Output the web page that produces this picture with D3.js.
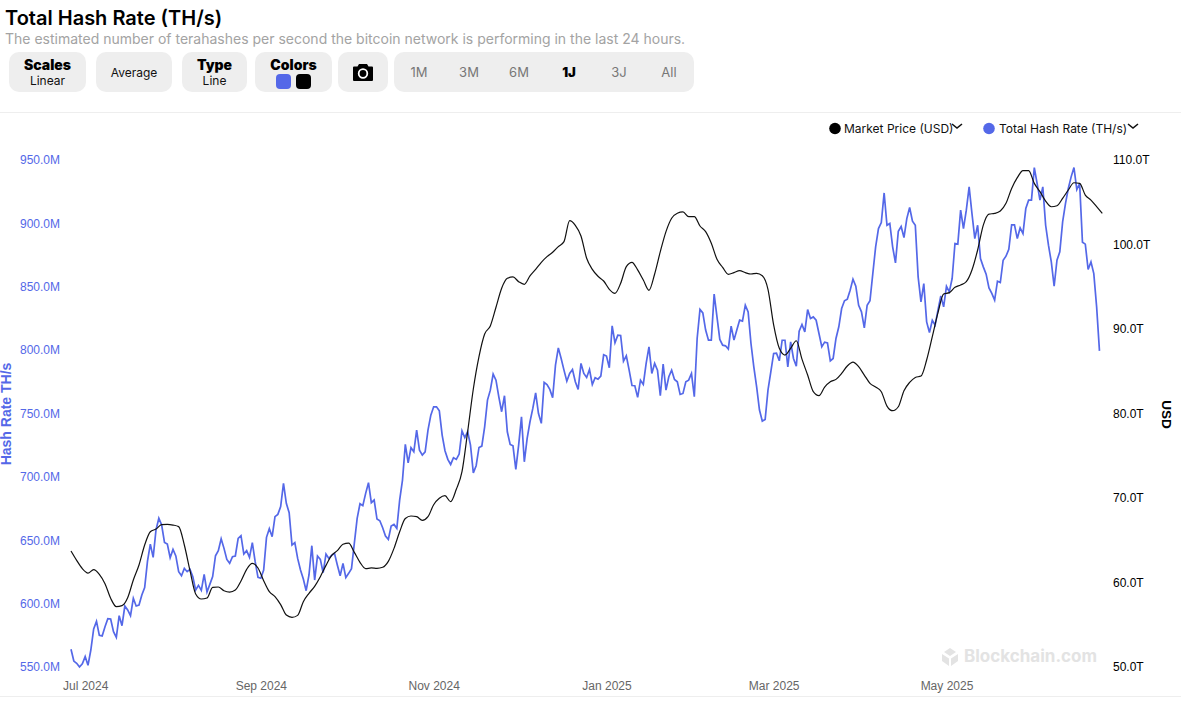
<!DOCTYPE html>
<html lang="en">

<head>
    <meta charset="UTF-8">
    <title>Total Hash Rate (TH/s)</title>
    <script src="https://d3js.org/d3.v7.min.js"></script>
    <style>
        html, body {
            margin: 0;
            padding: 0;
            background: #fff;
            font-family: Inter, sans-serif;
            overflow: hidden;
        }

        h1 {
            position: absolute;
            left: 5px;
            top: 6px;
            margin: 0;
            font-size: 20px;
            line-height: 24px;
            font-weight: 600;
            color: #000;
        }

        .sub {
            position: absolute;
            left: 5px;
            top: 30px;
            font-size: 14px;
            line-height: 18px;
            color: #a3a3a3;
        }

        .btn {
            position: absolute;
            top: 52px;
            height: 40px;
            background: #eee;
            border-radius: 10px;
            display: flex;
            flex-direction: column;
            align-items: center;
            justify-content: center;
            font-size: 12px;
            line-height: 15px;
            color: #111;
        }

        .btn b {
            font-size: 14px;
            line-height: 16px;
            font-weight: 900;
            color: #000;
            padding-top: 1px;
        }

        .swatches {
            display: flex;
            gap: 5px;
            margin-top: 1px;
        }

        .swatches i {
            width: 15px;
            height: 15px;
            border-radius: 4px;
            display: block;
        }

        .range {
            position: absolute;
            top: 13px;
            font-size: 13px;
            color: #777;
            transform: translateX(-50%);
        }

        .range.on {
            color: #000;
            font-weight: 900;
        }

        svg {
            position: absolute;
            left: 0;
            top: 0;
        }

        .tick text {
            font-family: "Liberation Sans", Arial, sans-serif;
            font-size: 12px;
        }
    </style>
</head>

<body>
    <h1>Total Hash Rate (TH/s)</h1>
    <div class="sub">The estimated number of terahashes per second the bitcoin network is performing in the last 24 hours.</div>
    <div id="toolbar"></div>
    <svg id="chart" width="1184" height="707"></svg>
    <script>
        const blue = "#5468e8";

        const leftTicks = [550, 600, 650, 700, 750, 800, 850, 900, 950];
        const rightTicks = [50, 60, 70, 80, 90, 100, 110];
        const monthTicks = ["2024-07-01", "2024-09-01", "2024-11-01", "2025-01-01", "2025-03-01", "2025-05-01"];
        const rangeLabels = ["1M", "3M", "6M", "1J", "3J", "All"];

        const firstDay = "2024-06-26";

        // hash rate in millions, one value a day
        const hashValues = [
            564.0, 554.7, 552.9, 550.0, 552.6, 558.2, 551.3, 563.4, 580.0, 586.0, 575.0, 574.5, 581.8, 588.1, 587.9, 577.9,
            573.4, 590.5, 582.6, 598.1, 595.0, 590.5, 604.2, 598.1, 598.9, 606.8, 612.6, 633.6, 647.0, 636.5, 658.1, 667.3,
            662.0, 648.3, 647.0, 636.2, 642.8, 637.6, 625.2, 622.0, 627.8, 625.2, 627.0, 621.3, 610.7, 614.4, 610.5, 623.1,
            609.2, 615.2, 621.3, 637.8, 641.8, 651.2, 643.6, 634.9, 631.8, 637.0, 637.6, 651.5, 653.6, 639.1, 641.8, 636.5,
            648.1, 633.1, 620.7, 620.0, 626.5, 652.3, 659.1, 652.8, 668.6, 670.4, 676.5, 694.9, 679.1, 671.7, 646.2, 648.1,
            635.7, 626.5, 619.4, 610.2, 622.6, 645.7, 618.6, 637.6, 634.9, 624.4, 639.1, 635.7, 638.1, 639.7, 630.5, 622.0,
            631.8, 620.5, 623.9, 627.6, 647.5, 667.3, 678.8, 677.3, 687.0, 695.4, 679.6, 681.7, 666.7, 665.4, 659.9, 653.3,
            650.7, 661.2, 662.5, 659.4, 681.7, 697.5, 725.6, 711.1, 723.0, 719.8, 736.9, 721.1, 717.2, 719.8, 736.9, 748.7,
            755.3, 755.3, 752.1, 733.0, 720.6, 713.8, 709.8, 715.1, 713.8, 718.0, 736.4, 730.9, 735.6, 725.1, 703.2, 708.8,
            723.2, 724.3, 739.5, 760.6, 768.4, 781.1, 776.3, 763.2, 751.4, 764.0, 735.6, 725.6, 724.5, 705.9, 725.1, 747.4,
            711.9, 730.3, 743.5, 754.0, 766.3, 750.0, 742.2, 774.5, 772.9, 769.0, 762.4, 788.2, 801.8, 793.4, 784.2, 775.5,
            781.6, 784.7, 775.0, 769.0, 789.5, 781.6, 778.4, 784.7, 772.9, 778.2, 777.1, 779.5, 796.3, 795.3, 786.1, 819.2,
            805.8, 811.8, 811.6, 791.3, 795.5, 784.2, 772.1, 771.9, 762.7, 776.3, 772.9, 789.5, 802.6, 781.6, 789.5, 784.2,
            764.0, 789.0, 768.4, 779.0, 784.2, 776.9, 775.0, 765.0, 765.8, 775.0, 776.3, 781.6, 763.2, 809.2, 832.1, 829.4,
            815.8, 807.9, 807.9, 844.2, 826.3, 808.4, 803.9, 803.4, 800.8, 818.9, 807.9, 815.8, 823.7, 822.9, 835.5, 830.2,
            805.2, 786.8, 771.1, 752.7, 744.0, 745.3, 768.4, 782.9, 797.4, 797.6, 791.6, 807.8, 807.8, 786.8, 806.5, 793.4,
            787.3, 814.9, 820.2, 814.4, 832.0, 824.9, 826.2, 823.6, 813.1, 802.6, 806.3, 805.7, 791.5, 793.4, 809.2, 818.4,
            832.8, 838.9, 840.2, 847.3, 856.0, 850.4, 835.4, 830.2, 817.6, 835.4, 838.9, 860.4, 881.5, 895.9, 900.6, 924.0,
            898.5, 899.9, 881.5, 868.8, 893.8, 897.5, 888.8, 903.8, 912.5, 901.7, 898.5, 857.8, 838.1, 852.5, 822.3, 813.9,
            823.6, 819.7, 831.5, 842.8, 834.1, 850.4, 846.0, 856.5, 884.1, 883.6, 910.4, 895.9, 910.4, 928.8, 907.7, 888.0,
            898.5, 872.3, 865.7, 859.9, 849.1, 844.7, 839.4, 854.4, 853.3, 870.9, 874.1, 879.6, 898.8, 898.8, 888.0, 896.4,
            892.0, 911.7, 918.3, 918.3, 944.0, 931.4, 918.3, 928.8, 898.5, 882.8, 869.6, 850.4, 870.9, 877.5, 901.2, 915.6,
            927.5, 936.7, 944.0, 926.7, 931.4, 885.1, 883.6, 863.6, 869.6, 860.4, 834.1, 799.4
        ];

        // market price, read every second day
        const priceValues = [
            63.73, 62.62, 61.64, 61.12, 61.52, 60.97, 59.86, 58.13, 57.14, 57.26, 58.2, 60.3, 62.07, 64.44, 66.0, 66.33,
            66.84, 66.88, 66.8, 66.61, 64.44, 61.4, 58.64, 58.05, 58.16, 59.43, 59.47, 59.03, 58.87, 59.11, 60.18, 61.56,
            62.27, 61.72, 60.22, 58.91, 58.32, 57.38, 56.15, 55.88, 56.11, 57.73, 58.72, 59.55, 60.69, 62.03, 63.21, 63.77,
            64.52, 64.67, 63.57, 62.39, 61.64, 61.72, 61.68, 61.8, 62.5, 64.04, 66.0, 67.57, 67.87, 67.79, 67.36, 67.79,
            69.2, 69.96, 70.27, 69.56, 71.03, 73.11, 77.85, 82.9, 86.73, 89.41, 90.36, 92.57, 94.82, 96.0, 96.16, 95.6,
            95.29, 96.28, 97.06, 97.89, 98.56, 99.08, 99.75, 100.34, 102.82, 102.27, 101.01, 98.37, 97.06, 96.24, 95.68, 94.7,
            94.22, 95.41, 97.38, 97.89, 96.99, 95.8, 94.58, 96.51, 99.16, 101.52, 103.1, 103.69, 103.85, 103.3, 103.3, 102.19,
            101.52, 100.14, 98.25, 97.3, 96.47, 96.67, 96.9, 96.67, 96.51, 96.59, 96.31, 94.7, 90.48, 87.71, 86.92, 87.71,
            88.61, 86.44, 84.55, 82.58, 82.11, 83.13, 83.76, 84.04, 84.75, 85.62, 86.09, 85.54, 84.55, 83.57, 83.13, 82.58,
            80.88, 80.33, 80.8, 82.7, 83.68, 84.27, 84.43, 86.33, 89.09, 91.93, 94.14, 94.3, 94.93, 95.2, 95.6, 96.98,
            99.35, 102.3, 103.6, 103.68, 103.96, 104.87, 106.64, 107.91, 108.75, 108.75, 107.23, 106.25, 105.14, 104.47, 104.59, 105.46,
            106.45, 107.31, 107.23, 105.85, 105.26, 104.47, 103.68
        ];

        const start = new Date(firstDay + "T00:00:00Z");
        const hashSeries = hashValues.map((v, i) => ({ date: d3.utcDay.offset(start, i), value: v }));
        const priceSeries = priceValues.map((v, i) => ({ date: d3.utcDay.offset(start, i * 2), value: v }));

        // toolbar
        const toolbar = d3.select("#toolbar");
        function addButton(left, width, title, sub) {
            const b = toolbar.append("div").attr("class", "btn")
                .style("left", left + "px").style("width", width + "px");
            if (title) b.append("b").text(title);
            if (sub) b.append("span").text(sub);
            return b;
        }
        addButton(9, 77, "Scales", "Linear");
        addButton(96, 76, null, "Average");
        addButton(182, 65, "Type", "Line");
        const colors = addButton(255, 77, "Colors", null);
        const swatches = colors.append("div").attr("class", "swatches");
        swatches.append("i").style("background", blue);
        swatches.append("i").style("background", "#000");

        const camera = addButton(338, 50, null, null);
        camera.append("svg").attr("width", 20).attr("height", 17).style("position", "static")
            .attr("viewBox", "0 0 20 17")
            .html('<path d="M6 0h8l1.5 2.5H19a1 1 0 0 1 1 1V16a1 1 0 0 1-1 1H1a1 1 0 0 1-1-1V3.500a1 1 0 0 1 1-1h3.500z" fill="#000"/><circle cx="10" cy="9.500" r="4.300" fill="none" stroke="#fff" stroke-width="1.800"/>');

        const rangeBox = addButton(394, 300, null, null);
        const rangeX = d3.scalePoint().domain(rangeLabels).range([25, 275]);
        rangeBox.selectAll(".range").data(rangeLabels).join("span")
            .attr("class", d => d === "1J" ? "range on" : "range")
            .style("left", d => rangeX(d) + "px")
            .text(d => d);

        // chart
        const svg = d3.select("#chart");

        svg.append("line").attr("x1", 0).attr("x2", 1181).attr("y1", 112.5).attr("y2", 112.5).attr("stroke", "#eee");
        svg.append("line").attr("x1", 0).attr("x2", 1181).attr("y1", 696.5).attr("y2", 696.5).attr("stroke", "#eee");

        const x = d3.scaleUtc()
            .domain([start, d3.utcDay.offset(start, 364)])
            .range([71, 1102.3]);
        const yLeft = d3.scaleLinear().domain([550, 950]).range([667, 160]);
        const yRight = d3.scaleLinear().domain([50, 110]).range([667, 160]);

        // watermark sits under the lines
        const mark = svg.append("g").attr("fill", "#e3e3e3");
        mark.append("path")
            .attr("transform", "translate(942,648)")
            .attr("d", "M8 0l6 4-6 4-6-4zM0 6l7 4.500V18l-7-5zM16 6l-7 4.500V18l7-5z");
        mark.append("text").attr("x", 964).attr("y", 662)
            .attr("font-family", "Inter, sans-serif").attr("font-size", 17).attr("font-weight", 700)
            .text("Blockchain.com");

        const axisLeft = d3.axisLeft(yLeft).tickValues(leftTicks).tickSize(0).tickPadding(0)
            .tickFormat(d => d.toFixed(1) + "M");
        const gLeft = svg.append("g").attr("transform", "translate(60,0)").call(axisLeft);
        gLeft.select(".domain").remove();
        gLeft.selectAll("text").attr("fill", blue);

        const axisRight = d3.axisRight(yRight).tickValues(rightTicks).tickSize(0).tickPadding(0)
            .tickFormat(d => d.toFixed(1) + "T");
        const gRight = svg.append("g").attr("transform", "translate(1113,0)").call(axisRight);
        gRight.select(".domain").remove();
        gRight.selectAll("text").attr("fill", "#000");

        const axisBottom = d3.axisBottom(x).tickValues(monthTicks.map(d => new Date(d + "T00:00:00Z")))
            .tickSize(0).tickPadding(0).tickFormat(d3.utcFormat("%b %Y"));
        const gBottom = svg.append("g").attr("transform", "translate(0,681)").call(axisBottom);
        gBottom.select(".domain").remove();
        gBottom.selectAll("text").attr("fill", "#666");

        const hashLine = d3.line().x(d => x(d.date)).y(d => yLeft(d.value));
        const priceLine = d3.line().x(d => x(d.date)).y(d => yRight(d.value)).curve(d3.curveMonotoneX);

        svg.append("path").datum(hashSeries).attr("d", hashLine)
            .attr("fill", "none").attr("stroke", blue).attr("stroke-width", 1.7);
        svg.append("path").datum(priceSeries).attr("d", priceLine)
            .attr("fill", "none").attr("stroke", "#111").attr("stroke-width", 1.2);

        // axis titles
        svg.append("text").attr("transform", "translate(11,414) rotate(-90)")
            .attr("text-anchor", "middle").attr("fill", blue)
            .attr("font-family", "'Liberation Sans', Arial, sans-serif").attr("font-size", 14).attr("font-weight", 700)
            .text("Hash Rate TH/s");
        svg.append("text").attr("transform", "translate(1162,414.5) rotate(90)")
            .attr("text-anchor", "middle").attr("fill", "#000")
            .attr("font-family", "'Liberation Sans', Arial, sans-serif").attr("font-size", 13.5).attr("font-weight", 700)
            .text("USD");

        // legend
        const legendItems = [
            { label: "Market Price (USD)", color: "#000", dot: 835, text: 844, arrow: 957 },
            { label: "Total Hash Rate (TH/s)", color: blue, dot: 989, text: 999, arrow: 1133 }
        ];
        const legend = svg.selectAll(".legend").data(legendItems).join("g").attr("class", "legend");
        legend.append("circle").attr("cx", d => d.dot).attr("cy", 128.500).attr("r", 5.800).attr("fill", d => d.color);
        legend.append("text").attr("x", d => d.text).attr("y", 133)
            .attr("font-family", "Inter, sans-serif").attr("font-size", 12).attr("fill", "#111")
            .text(d => d.label);
        legend.append("path")
            .attr("d", d => `M${d.arrow - 5} 124l5 4 5-4`)
            .attr("fill", "none").attr("stroke", "#111").attr("stroke-width", 1.6);
    </script>
</body>

</html>
